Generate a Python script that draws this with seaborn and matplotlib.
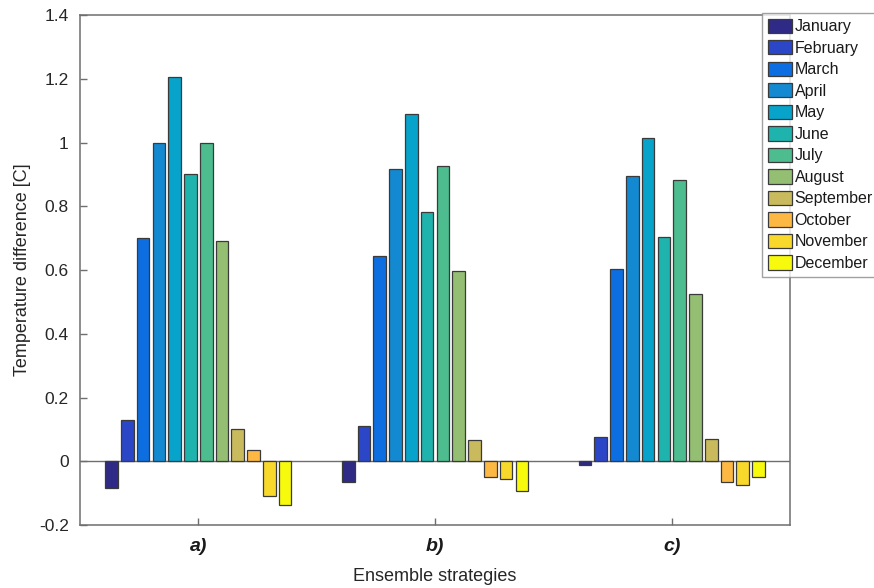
import pandas as pd
import matplotlib
matplotlib.use("Agg")
import matplotlib.pyplot as plt
import seaborn as sns


sns.set_theme(style="white")
plt.rcParams['font.family'] = ['Liberation Sans', 'DejaVu Sans']
plt.rcParams['xtick.direction'] = 'in'
plt.rcParams['ytick.direction'] = 'in'

strategies = ['a)', 'b)', 'c)']
months = ['January', 'February', 'March', 'April', 'May', 'June', 'July',
          'August', 'September', 'October', 'November', 'December']

vals_a = [-0.085, 0.13, 0.70, 1.00, 1.205, 0.90, 1.00, 0.69, 0.10, 0.037, -0.109, -0.137]
vals_b = [-0.066, 0.11, 0.643, 0.917, 1.088, 0.782, 0.925, 0.596, 0.068, -0.048, -0.054, -0.093]
vals_c = [-0.012, 0.077, 0.603, 0.895, 1.015, 0.705, 0.883, 0.525, 0.069, -0.064, -0.075, -0.048]

month_colors = ['#2e2a86', '#2c46c8', '#0c6ee1', '#1389d2', '#07a3cb', '#1fb3ad',
                '#4dbc8e', '#94be72', '#c8ba5d', '#fcb843', '#f8d82a', '#f8fa0d']

yticks = [-0.2, 0, 0.2, 0.4, 0.6, 0.8, 1.0, 1.2, 1.4]
ytick_labels = ['-0.2', '0', '0.2', '0.4', '0.6', '0.8', '1', '1.2', '1.4']

rows = []
for strat, vals in zip(strategies, [vals_a, vals_b, vals_c]):
    for m, v in zip(months, vals):
        rows.append({'Strategy': strat, 'Month': m, 'Value': v})
df = pd.DataFrame(rows)

fig = plt.figure(figsize=(8.74, 5.88), dpi=100)
ax = fig.add_axes([0.0915, 0.107, 0.8125, 0.8675])

ax.axhline(0, color='#6e6e6e', lw=1.0, zorder=0.5)
sns.barplot(data=df, x='Strategy', y='Value', hue='Month', order=strategies,
            hue_order=months, palette=month_colors, width=0.8, gap=0.2,
            edgecolor='#3a3a3a', linewidth=0.9, saturation=1, ax=ax, zorder=2)

ax.set_xlim(-0.5, 2.5)
ax.set_ylim(-0.2, 1.4)
ax.set_yticks(yticks)
ax.set_yticklabels(ytick_labels, fontsize=12.5, color='#262626')
ax.set_xticks(range(len(strategies)))
ax.set_xticklabels(strategies, fontsize=14, fontweight='bold', fontstyle='italic',
                   color='#1a1a1a')
ax.tick_params(axis='both', direction='in', length=5, width=1, color='#6e6e6e',
               left=True, bottom=True, right=False, top=False)
ax.tick_params(axis='x', pad=9)
ax.tick_params(axis='y', pad=8)
for sp in ax.spines.values():
    sp.set_color('#6e6e6e')
    sp.set_linewidth(1.1)

ax.set_xlabel('Ensemble strategies', fontsize=13, color='#262626', labelpad=10)
ax.set_ylabel('Temperature difference [C]', fontsize=13, color='#262626', labelpad=6)

leg = ax.legend(loc='upper left', bbox_to_anchor=(762 / 874, 1 - 13 / 588),
                bbox_transform=fig.transFigure, fontsize=11.5, frameon=True,
                fancybox=False, handlelength=1.55, handleheight=1.0,
                handletextpad=0.15, labelspacing=0.37, borderpad=0.35,
                borderaxespad=0)
leg.get_frame().set_edgecolor('#8a8a8a')
leg.get_frame().set_linewidth(1.0)
for t in leg.get_texts():
    t.set_color('#1a1a1a')

fig.savefig('out.png', dpi=100)
